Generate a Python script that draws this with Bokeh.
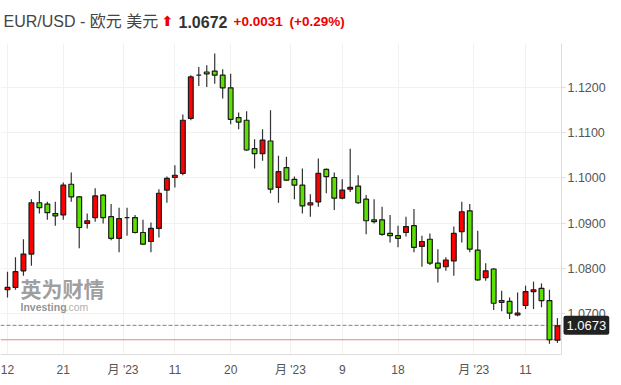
from bokeh.plotting import figure
from bokeh.models import (Range1d, FixedTicker, NumeralTickFormatter, CustomJSTickFormatter,
                          Span, Label, ColumnDataSource, BoxAnnotation)
from bokeh.embed import file_html
from bokeh.resources import INLINE

# ---- data (EUR/USD daily) ----
opens = [1.0752, 1.0757, 1.0794, 1.0831, 1.0945, 1.0942, 1.0921, 1.0918, 1.0986, 1.0958,
         1.0899, 1.0912, 1.0962, 1.0914, 1.0866, 1.0912, 1.0912, 1.0879, 1.0859, 1.0888,
         1.0973, 1.1001, 1.1010, 1.1132, 1.1228, 1.1235, 1.1237, 1.1228, 1.1200, 1.1134,
         1.1128, 1.1065, 1.1054, 1.1082, 1.0979, 1.1023, 1.0997, 1.0984, 1.0940, 1.0947,
         1.1019, 1.1001, 1.0955, 1.0975, 1.0982, 1.0953, 1.0907, 1.0907, 1.0877, 1.0872,
         1.0879, 1.0894, 1.0848, 1.0864, 1.0811, 1.0803, 1.0816, 1.0881, 1.0927, 1.0840,
         1.0779, 1.0798, 1.0728, 1.0726, 1.0696, 1.0717, 1.0748, 1.0755, 1.0728, 1.0640]
closes = [1.0757, 1.0792, 1.0831, 1.0945, 1.0934, 1.0923, 1.0916, 1.0984, 1.0958, 1.0890,
          1.0905, 1.0960, 1.0912, 1.0866, 1.0910, 1.0912, 1.0879, 1.0853, 1.0888, 1.0966,
          1.0999, 1.1006, 1.1128, 1.1224, 1.1228, 1.1231, 1.1228, 1.1200, 1.1130, 1.1124,
          1.1062, 1.1054, 1.1084, 1.0975, 1.1014, 1.0995, 1.0984, 1.0938, 1.0945, 1.1010,
          1.1003, 1.0955, 1.0973, 1.0979, 1.0945, 1.0905, 1.0903, 1.0875, 1.0872, 1.0866,
          1.0892, 1.0846, 1.0859, 1.0811, 1.0800, 1.0818, 1.0877, 1.0925, 1.0842, 1.0774,
          1.0794, 1.0722, 1.0724, 1.0700, 1.0700, 1.0748, 1.0752, 1.0728, 1.0641, 1.0672]
highs = [1.0792, 1.0824, 1.0864, 1.0953, 1.0971, 1.0947, 1.0947, 1.0990, 1.1012, 1.0960,
         1.0921, 1.0977, 1.0964, 1.0942, 1.0934, 1.0934, 1.0918, 1.0907, 1.0901, 1.0975,
         1.1003, 1.1028, 1.1141, 1.1228, 1.1246, 1.1250, 1.1276, 1.1241, 1.1231, 1.1145,
         1.1148, 1.1086, 1.1108, 1.1150, 1.1049, 1.1047, 1.1003, 1.1021, 1.0964, 1.1043,
         1.1021, 1.1012, 1.0997, 1.1065, 1.1006, 1.0962, 1.0953, 1.0936, 1.0918, 1.0894,
         1.0914, 1.0931, 1.0872, 1.0877, 1.0842, 1.0824, 1.0892, 1.0947, 1.0942, 1.0883,
         1.0811, 1.0800, 1.0750, 1.0735, 1.0746, 1.0761, 1.0770, 1.0766, 1.0752, 1.0689]
lows = [1.0735, 1.0752, 1.0783, 1.0805, 1.0921, 1.0907, 1.0894, 1.0907, 1.0947, 1.0844,
        1.0888, 1.0903, 1.0899, 1.0862, 1.0835, 1.0872, 1.0877, 1.0851, 1.0835, 1.0868,
        1.0945, 1.0979, 1.1006, 1.1128, 1.1204, 1.1202, 1.1209, 1.1176, 1.1119, 1.1108,
        1.1060, 1.1021, 1.1038, 1.0966, 1.0945, 1.0993, 1.0953, 1.0921, 1.0914, 1.0936,
        1.0966, 1.0929, 1.0953, 1.0969, 1.0942, 1.0875, 1.0899, 1.0872, 1.0857, 1.0846,
        1.0870, 1.0835, 1.0803, 1.0807, 1.0768, 1.0794, 1.0783, 1.0857, 1.0835, 1.0772,
        1.0772, 1.0707, 1.0704, 1.0687, 1.0693, 1.0709, 1.0709, 1.0713, 1.0632, 1.0634]

x_tick_pos = [0, 7, 14.5, 21, 28, 35.5, 42, 49, 58.5, 65]
x_tick_labels = ["12", "21", "月 '23", "11", "20", "月 '23", "9", "18", "月 '23", "11"]
y_ticks = [1.07, 1.08, 1.09, 1.10, 1.11, 1.12]

last_price = 1.0673
prev_close = 1.0641
title_name = "EUR/USD - 欧元 美元"
title_last = "1.0672"
title_change = "+0.0031"
title_pct = "(+0.29%)"

# plotting area limits (price window and where the price axis sits)
Y_LO, Y_HI = 1.06083, 1.129825
X_AXIS_AT = 69.51

UP = "#ff0000"
DOWN = "#5ce000"

idx = list(range(len(opens)))
src = ColumnDataSource(dict(
    x=idx, h=highs, l=lows,
    top=[max(o, c) for o, c in zip(opens, closes)],
    bottom=[min(o, c) for o, c in zip(opens, closes)],
    color=[UP if c > o else (DOWN if c < o else "#888888") for o, c in zip(opens, closes)],
))

FONT = "'Liberation Sans', 'Noto Sans CJK SC'"
H = 377

p = figure(width=613, height=H, output_backend="svg", toolbar_location=None,
           x_range=Range1d(-0.878, 76.035), y_range=Range1d(1.055727, 1.139366),
           y_axis_location="right", min_border_left=0, min_border_right=0,
           min_border_top=0, min_border_bottom=0)
p.outline_line_color = None
p.background_fill_color = "white"

# grids
p.xgrid.ticker = FixedTicker(ticks=x_tick_pos)
p.xgrid.grid_line_color = "#f1f1f1"
p.ygrid.ticker = FixedTicker(ticks=y_ticks)
p.ygrid.grid_line_color = "#f1f1f1"

# x axis
xa = p.xaxis[0]
xa.fixed_location = Y_LO
xa.bounds = (-0.878, X_AXIS_AT)
xa.ticker = FixedTicker(ticks=x_tick_pos)
xa.formatter = CustomJSTickFormatter(args=dict(pos=x_tick_pos, labs=x_tick_labels),
                                     code="const i = pos.indexOf(tick); return i >= 0 ? labs[i] : '';")
xa.axis_line_color = "#dddddd"
xa.major_tick_line_color = None
xa.minor_tick_line_color = None
xa.major_label_text_color = "#555555"
xa.major_label_text_font = FONT
xa.major_label_text_font_size = "12px"
xa.major_label_standoff = 3

# y axis (right)
ya = p.yaxis[0]
ya.fixed_location = X_AXIS_AT
ya.bounds = (Y_LO, Y_HI)
ya.ticker = FixedTicker(ticks=y_ticks)
ya.formatter = NumeralTickFormatter(format="0.0000")
ya.axis_line_color = "#dddddd"
ya.major_tick_line_color = "#dddddd"
ya.major_tick_in = 0
ya.major_tick_out = 4
ya.minor_tick_line_color = None
ya.major_label_text_color = "#555555"
ya.major_label_text_font = FONT
ya.major_label_text_font_size = "12.5px"
ya.major_label_standoff = 2

# reference lines
p.add_layout(Span(location=prev_close, dimension="width", line_color="#f08080",
                  line_width=1, level="underlay"))
p.add_layout(Span(location=last_price, dimension="width", line_color="#808080",
                  line_width=1, line_dash="4 2", level="underlay"))

# keep grid / reference lines inside the plotting window
for kw in (dict(bottom=Y_HI), dict(top=Y_LO), dict(left=X_AXIS_AT)):
    p.add_layout(BoxAnnotation(fill_color="white", fill_alpha=1, line_color=None,
                               level="underlay", **kw))

# candles
p.segment(x0="x", y0="h", x1="x", y1="l", source=src, line_color="#333333", line_width=1.2)
p.vbar(x="x", width=0.6, top="top", bottom="bottom", source=src,
       fill_color="color", line_color="#1a1a1a", line_width=1.2)

# watermark
p.add_layout(Label(x=20, y=H - 287, x_units="screen", y_units="screen", text="英为财情",
                   text_font="Noto Sans CJK SC", text_font_style="bold", text_font_size="21px",
                   text_color="#808080", text_alpha=0.75, text_baseline="middle"))
p.add_layout(Label(x=20, y=H - 306, x_units="screen", y_units="screen", text="Investing",
                   text_font="Liberation Sans", text_font_style="bold", text_font_size="10.5px",
                   text_color="#808080", text_alpha=0.85, text_baseline="alphabetic"))
p.add_layout(Label(x=65, y=H - 306, x_units="screen", y_units="screen", text=".com",
                   text_font="Liberation Sans", text_font_size="10.5px",
                   text_color="#a0a0a0", text_alpha=0.85, text_baseline="alphabetic"))

# last price tag on the price axis
p.add_layout(Label(x=563, y=last_price, x_units="screen", y_units="data", text="1.0673",
                   text_font="Liberation Sans", text_font_size="13px", text_color="white",
                   text_baseline="middle", background_fill_color="#222222",
                   padding=dict(left=3, right=3, top=5, bottom=5), border_radius=2))

# header
TY = H - 21
p.add_layout(Label(x=3, y=TY, x_units="screen", y_units="screen", text=title_name,
                   text_font=FONT, text_font_size="16px", text_color="#444444",
                   text_baseline="alphabetic"))
p.add_layout(Label(x=161, y=TY + 1, x_units="screen", y_units="screen", text="⬆",
                   text_font="DejaVu Sans", text_font_style="bold", text_font_size="14px",
                   text_color="#ee0000", text_baseline="alphabetic"))
p.add_layout(Label(x=178, y=TY, x_units="screen", y_units="screen", text=title_last,
                   text_font="Liberation Sans", text_font_style="bold", text_font_size="16px",
                   text_color="#333333", text_baseline="alphabetic"))
p.add_layout(Label(x=233, y=TY, x_units="screen", y_units="screen", text=title_change,
                   text_font="Liberation Sans", text_font_style="bold", text_font_size="13.5px",
                   text_color="#ee0000", text_baseline="alphabetic"))
p.add_layout(Label(x=289, y=TY, x_units="screen", y_units="screen", text=title_pct,
                   text_font="Liberation Sans", text_font_style="bold", text_font_size="13.5px",
                   text_color="#ee0000", text_baseline="alphabetic"))

open("out.html", "w").write(file_html(p, INLINE))
